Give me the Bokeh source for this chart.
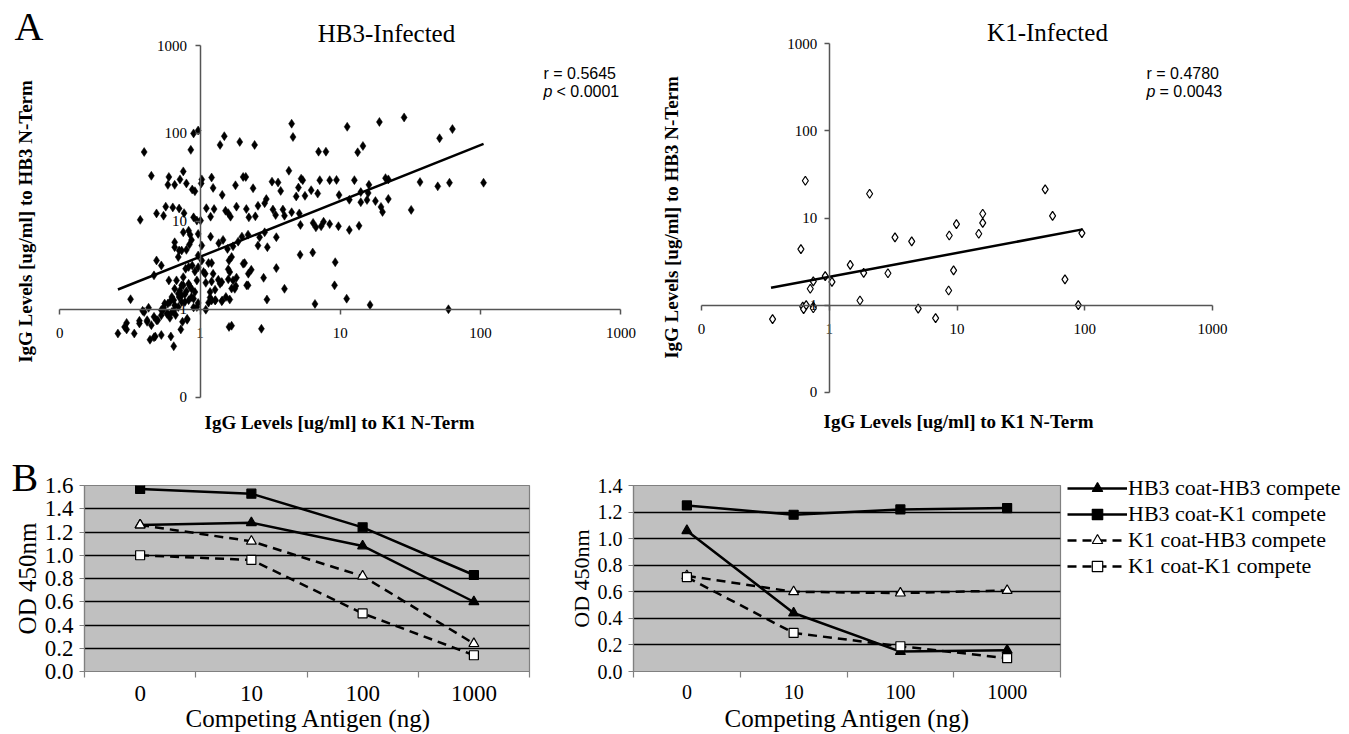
import math
from bokeh.plotting import figure
from bokeh.layouts import column, row
from bokeh.models import (Range1d, FixedTicker, CustomJSTickFormatter, Label, LogAxis,
                          Legend, LegendItem, PrintfTickFormatter, Title)
from bokeh.embed import file_html
from bokeh.resources import INLINE

SERIF = "Liberation Serif"
SANS = "Liberation Sans"

# ---------------- Panel A data ----------------
log_ticks = [0.1, 1, 10, 100, 1000]

# (IgG to K1 N-Term, IgG to HB3 N-Term) for HB3-infected sera
hb3_infected = [
    (0.97, 108), (0.90, 100), (4.5, 129), (4.6, 91), (11.2, 119), (1.49, 93), (1.39, 74),
    (1.92, 80), (2.45, 74), (0.40, 61.5), (0.86, 65), (7.0, 62), (7.9, 62), (13.3, 61),
    (28.5, 152), (19, 135), (63, 112), (51, 88), (14.5, 72),
    (0.45, 33), (0.60, 32), (0.76, 37), (0.59, 26), (0.66, 26), (0.72, 30), (0.80, 27),
    (0.88, 23), (0.92, 22), (1.03, 30), (1.02, 27), (1.21, 31.5), (1.24, 24), (1.44, 20),
    (1.79, 25.7), (2.03, 32), (2.12, 32), (2.39, 23.8), (3.26, 28.3), (3.6, 27.7), (3.76, 22.2),
    (4.3, 37.6), (5.26, 30.6), (5.4, 29.4), (5.03, 24.2), (4.85, 19.2), (5.6, 19.5), (6.2, 22.6),
    (7.14, 29.4), (6.9, 20.7), (8.4, 29.4), (9.4, 29.6), (9.8, 19.9), (12.6, 29.4), (11.6, 17.6),
    (105, 27.5), (60, 27.5), (49.5, 25), (37, 28), (22, 30), (21, 31), (16, 26), (15.8, 21),
    (14, 21.5), (22, 18), (17.8, 17), (15.5, 17.5), (14, 16.5), (19.5, 14.6), (20, 12.8), (32, 13.5),
    (0.375, 10.4), (0.49, 12.3), (0.55, 11.6), (0.57, 14.7), (0.64, 14.4), (0.71, 14.0), (0.77, 12.4),
    (0.90, 11.1), (0.95, 10.2), (1.01, 10.2), (1.11, 14.1), (1.19, 11.3), (1.26, 13.8), (1.52, 13.2),
    (1.59, 12.4), (1.65, 11.3), (1.82, 14.7), (2.14, 13.8), (2.23, 11.1), (2.48, 11.4), (2.59, 15.0),
    (2.89, 16.1), (2.97, 17.9), (3.31, 13.6), (3.46, 11.8), (3.9, 13.6), (4.0, 11.6), (4.5, 12.7),
    (5.1, 12.3), (5.2, 9.1), (6.4, 9.6), (6.7, 8.55), (7.3, 8.8), (7.6, 9.9), (8.4, 9.3), (9.7, 8.8),
    (11.6, 7.97), (13.6, 8.9),
    (0.66, 5.78), (0.66, 5.08), (0.71, 4.66), (0.74, 4.66), (0.80, 4.74), (0.84, 5.44), (0.87, 6.15),
    (0.85, 7.06), (0.83, 7.84), (0.76, 7.5), (0.97, 7.2), (1.03, 5.3), (0.97, 4.09), (1.03, 3.59),
    (1.19, 6.7), (1.36, 5.64), (1.46, 6.15), (1.57, 4.86), (1.72, 5.2), (1.87, 5.88), (1.99, 6.7),
    (2.2, 7.06), (2.59, 5.3), (2.66, 6.6), (2.89, 7.5), (3.5, 6.6), (3.02, 5.08),
    (0.49, 3.59), (0.53, 3.15), (0.47, 2.43), (0.88, 3.15), (0.79, 2.89), (0.92, 2.69), (0.76, 2.32),
    (0.68, 2.13), (0.74, 1.87), (0.83, 1.95), (0.87, 1.71), (0.95, 2.13), (0.97, 3.0), (1.06, 2.65),
    (1.15, 3.35), (1.24, 2.53), (1.35, 2.17), (1.21, 2.07), (1.28, 1.67), (1.18, 1.57), (1.21, 1.26),
    (1.39, 1.95), (1.44, 1.26), (1.59, 2.19), (1.63, 2.65), (1.72, 2.13), (1.77, 1.71), (1.63, 1.29),
    (1.61, 3.59), (2.08, 3.35), (2.32, 2.81), (2.84, 2.28), (3.5, 2.94), (3.0, 1.29), (2.2, 1.87),
    (4.0, 1.71), (5.17, 4.16), (6.36, 4.42), (9.2, 3.43), (9.1, 1.87), (11.1, 1.32), (6.6, 1.15),
    (0.32, 1.3), (16.3, 1.12), (59, 1.0),
    (0.60, 2.13), (0.66, 1.71), (0.70, 1.5), (0.63, 1.38), (0.61, 1.21), (0.56, 1.16), (0.74, 1.44),
    (0.78, 1.21), (0.90, 1.32), (0.70, 1.06), (0.65, 0.97), (0.59, 0.89), (0.53, 0.855), (0.49, 0.75),
    (0.45, 0.66), (0.42, 0.72), (0.40, 0.93), (0.37, 0.74), (0.30, 0.70), (0.30, 0.59), (0.26, 0.53),
    (0.44, 0.45), (0.48, 0.49), (0.53, 0.51), (0.62, 0.49), (0.65, 0.38), (0.73, 0.59), (0.81, 0.76),
    (0.95, 1.06), (0.97, 1.18), (1.1, 0.99), (1.28, 1.26), (1.61, 0.63), (1.68, 0.65), (2.74, 0.60),
    (0.61, 0.80), (0.67, 0.86), (0.55, 1.0),
    (0.39, 0.96), (0.43, 1.04), (0.47, 0.82), (0.53, 0.98), (0.55, 1.05), (0.59, 1.16), (0.63, 0.93),
    (0.65, 1.27), (0.66, 1.11), (0.71, 1.38), (0.72, 1.64), (0.74, 1.21), (0.76, 1.87), (0.78, 1.48),
    (0.80, 1.6), (0.83, 1.27), (0.85, 1.8), (0.87, 1.38), (0.90, 1.05), (0.92, 1.57), (0.58, 0.89),
    (0.50, 0.75), (0.42, 0.75), (0.37, 0.69), (0.29, 0.63), (0.34, 0.53), (0.47, 0.48), (0.81, 0.78),
    (0.75, 0.72), (1.15, 1.19), (1.18, 1.36), (1.29, 1.27), (1.43, 1.23), (1.53, 1.38), (1.68, 1.72),
    (1.80, 1.84), (1.82, 2.29), (2.15, 1.87), (2.21, 2.54), (1.43, 2.04), (1.10, 2.0), (1.09, 2.54),
    (1.21, 3.36), (1.59, 2.85), (1.68, 3.93), (2.03, 3.3), (0.70, 3.93), (0.83, 3.03),
]
hb3_fit_k1 = [0.26, 105]
hb3_fit_hb3 = [1.68, 76]

k1_infected_k1 = [0.36, 0.60, 0.65, 0.62, 0.63, 0.66, 0.75, 0.75, 0.71, 0.75, 0.93, 1.05,
                  1.46, 1.74, 1.86, 2.07, 2.88, 3.27, 4.42, 4.97, 6.8, 8.6, 8.7, 9.4, 9.9,
                  14.8, 15.9, 15.9, 49, 56, 70, 89, 95]
k1_infected_hb3 = [0.69, 4.4, 26.8, 0.96, 0.90, 1.0, 0.96, 0.92, 1.54, 1.87, 2.15, 1.85,
                   2.9, 1.13, 2.34, 19, 2.32, 6.0, 5.4, 0.91, 0.71, 1.47, 6.3, 2.5, 8.5,
                   6.6, 8.8, 11.2, 21.3, 10.6, 1.97, 1.0, 6.7]
k1_fit_k1 = [0.35, 96]
k1_fit_hb3 = [1.58, 7.4]

# ---------------- Panel B data ----------------
doses = ["0", "10", "100", "1000"]
od_ticks_left = [0.0, 0.2, 0.4, 0.6, 0.8, 1.0, 1.2, 1.4, 1.6]
od_ticks_right = [0.0, 0.2, 0.4, 0.6, 0.8, 1.0, 1.2, 1.4]
series_names = ["HB3 coat-HB3 compete", "HB3 coat-K1 compete",
                "K1 coat-HB3 compete", "K1 coat-K1 compete"]
left_hb3coat_hb3comp = [1.26, 1.28, 1.08, 0.60]
left_hb3coat_k1comp = [1.57, 1.53, 1.24, 0.83]
left_k1coat_hb3comp = [1.26, 1.12, 0.82, 0.24]
left_k1coat_k1comp = [1.00, 0.96, 0.50, 0.14]
right_hb3coat_hb3comp = [1.06, 0.44, 0.15, 0.16]
right_hb3coat_k1comp = [1.25, 1.18, 1.22, 1.23]
right_k1coat_hb3comp = [0.72, 0.60, 0.59, 0.61]
right_k1coat_k1comp = [0.71, 0.29, 0.19, 0.10]

# ---------------- geometry (page pixels) ----------------
GEO_A = dict(left=0, top=0, width=640, height=442, x01=59.2, x1000=620.4, y1000=45.0, y01=396.7)
GEO_B = dict(left=640, top=0, width=709, height=442, x01=701.0, x1000=1212.0, y1000=43.3, y01=391.7)
GEO_C = dict(left=0, top=442, width=560, height=292, fx0=84, fx1=529, fy0=485, fy1=671)
GEO_D = dict(left=560, top=442, width=502, height=292, fx0=633, fx1=1060, fy0=485, fy1=671)
GEO_E = dict(left=1062, top=442, width=287, height=292, fy0=472, fy1=671)


def log_limits(g):
    dx = (g["x1000"] - g["x01"]) / 4.0
    dy = (g["y01"] - g["y1000"]) / 4.0
    xlo = -1 - (g["x01"] - g["left"]) / dx
    xhi = 3 + (g["left"] + g["width"] - g["x1000"]) / dx
    yhi = 3 + (g["y1000"] - g["top"]) / dy
    ylo = -1 - (g["top"] + g["height"] - g["y01"]) / dy
    return xlo, xhi, ylo, yhi


def log_xy(g, px, py):
    dx = (g["x1000"] - g["x01"]) / 4.0
    dy = (g["y01"] - g["y1000"]) / 4.0
    return 10 ** (-1 + (px - g["x01"]) / dx), 10 ** (3 - (py - g["y1000"]) / dy)


def lin_xy(g, px, py, ymax):
    x = -0.5 + len(doses) * (px - g["fx0"]) / (g["fx1"] - g["fx0"])
    y = ymax * (g["fy1"] - py) / (g["fy1"] - g["fy0"])
    return x, y


def make_label(xy, text, size, font=SERIF, style="normal", align="left", angle=0.0):
    return Label(x=xy[0], y=xy[1], text=text, text_font=font,
                 text_font_size=f"{size}px", text_font_style=style,
                 text_align=align, text_baseline="middle", angle=angle,
                 text_color="black")


def scatter_fig(g, x_stand, y_stand):
    xlo, xhi, ylo, yhi = log_limits(g)
    p = figure(width=g["width"], height=g["height"], x_axis_type="log", y_axis_type="log",
               x_range=Range1d(10 ** xlo, 10 ** xhi), y_range=Range1d(10 ** ylo, 10 ** yhi),
               x_axis_location=None, y_axis_location=None, min_border=0,
               toolbar_location=None, output_backend="svg")
    p.outline_line_color = None
    p.grid.visible = False
    common = dict(fixed_location=1, bounds=(0.1, 1000),
                  axis_line_color="#555555", axis_line_width=1.5,
                  major_tick_line_color="#555555", major_tick_line_width=1.5,
                  major_tick_in=5, major_tick_out=0, minor_tick_line_color=None,
                  major_label_text_font=SERIF, major_label_text_font_size="15px",
                  major_label_text_color="black")
    xax = LogAxis(ticker=FixedTicker(ticks=log_ticks, minor_ticks=[]),
                  formatter=CustomJSTickFormatter(
                      code="return tick < 0.5 ? '0' : String(Math.round(tick));"),
                  major_label_standoff=x_stand, **common)
    yax = LogAxis(ticker=FixedTicker(ticks=log_ticks, minor_ticks=[]),
                  formatter=CustomJSTickFormatter(
                      code="const s = tick < 0.5 ? '0' : String(Math.round(tick));"
                           " return '\\u2007'.repeat(4 - s.length) + s;"),
                  major_label_standoff=y_stand, **common)
    # the negative standoffs bring the labels back across the axis line
    p.add_layout(xax, "above")
    p.add_layout(yax, "right")
    return p


# ---------------- Panel A : HB3-infected ----------------
pA = scatter_fig(GEO_A, -29, -43)
pA.scatter([v[0] for v in hb3_infected], [v[1] for v in hb3_infected], marker="diamond",
           size=9, fill_color="black", line_color="black", line_width=0.5)
pA.line(hb3_fit_k1, hb3_fit_hb3, line_color="black", line_width=2.5)
for lab in [
    make_label(log_xy(GEO_A, 14, 25.5), "A", 40),
    make_label(log_xy(GEO_A, 386, 32.5), "HB3-Infected", 25, align="center"),
    make_label(log_xy(GEO_A, 543, 72.5), "r = 0.5645", 16, font=SANS),
    make_label(log_xy(GEO_A, 543, 91), "p", 16, font=SANS, style="italic"),
    make_label(log_xy(GEO_A, 556, 91), "< 0.0001", 16, font=SANS),
    make_label(log_xy(GEO_A, 25, 221), "IgG Levels [ug/ml] to HB3 N-Term", 19, style="bold",
               align="center", angle=math.pi / 2),
    make_label(log_xy(GEO_A, 339, 422), "IgG Levels [ug/ml] to K1 N-Term", 19, style="bold",
               align="center"),
]:
    pA.add_layout(lab)

# ---------------- Panel A : K1-infected ----------------
pB = scatter_fig(GEO_B, -29, -42)
pB.scatter(k1_infected_k1, k1_infected_hb3, marker="diamond", size=9,
           fill_color="white", line_color="black", line_width=1.2)
pB.line(k1_fit_k1, k1_fit_hb3, line_color="black", line_width=2.5)
for lab in [
    make_label(log_xy(GEO_B, 1047, 32), "K1-Infected", 25, align="center"),
    make_label(log_xy(GEO_B, 1146, 72.5), "r = 0.4780", 16, font=SANS),
    make_label(log_xy(GEO_B, 1146, 90.5), "p", 16, font=SANS, style="italic"),
    make_label(log_xy(GEO_B, 1159, 90.5), "= 0.0043", 16, font=SANS),
    make_label(log_xy(GEO_B, 671, 217), "IgG Levels [ug/ml] to HB3 N-Term", 19, style="bold",
               align="center", angle=math.pi / 2),
    make_label(log_xy(GEO_B, 958, 421), "IgG Levels [ug/ml] to K1 N-Term", 19, style="bold",
               align="center"),
]:
    pB.add_layout(lab)


# ---------------- Panel B : competition ELISA ----------------
def od_fig(g, ymax, yticks, fsize, xstand, ytitle_size):
    p = figure(width=g["width"], height=g["height"],
               x_range=Range1d(-0.5, len(doses) - 0.5), y_range=Range1d(0, ymax),
               toolbar_location=None, output_backend="svg",
               min_border_left=g["fx0"] - g["left"],
               min_border_right=g["left"] + g["width"] - g["fx1"],
               min_border_top=g["fy0"] - g["top"],
               min_border_bottom=g["top"] + g["height"] - g["fy1"])
    p.background_fill_color = "#c0c0c0"
    p.outline_line_color = "#808080"
    p.outline_line_width = 1.2
    p.xgrid.grid_line_color = None
    p.ygrid.grid_line_color = "black"
    p.ygrid.grid_line_width = 1.3
    yax = p.yaxis[0]
    yax.ticker = FixedTicker(ticks=yticks, minor_ticks=[])
    yax.formatter = PrintfTickFormatter(format="%.1f")
    xax = p.xaxis[0]
    xax.ticker = FixedTicker(ticks=list(range(len(doses))),
                             minor_ticks=[i - 0.5 for i in range(len(doses) + 1)])
    xax.formatter = CustomJSTickFormatter(
        args=dict(labels=doses),
        code="const i = Math.round(tick); return (i >= 0 && i < labels.length) ? labels[i] : '';")
    xax.major_tick_line_color = None
    xax.major_tick_out = 6
    xax.minor_tick_line_color = "#808080"
    xax.minor_tick_out = 6
    xax.minor_tick_in = 0
    xax.major_label_standoff = xstand
    yax.major_tick_line_color = "#808080"
    yax.major_tick_out = 5
    yax.major_tick_in = 0
    yax.major_label_standoff = 6
    yax.minor_tick_line_color = None
    for ax in (xax, yax):
        ax.axis_line_color = "#808080"
        ax.axis_line_width = 1.2
        ax.major_tick_line_width = 1.2
        ax.minor_tick_line_width = 1.2
        ax.major_label_text_font = SERIF
        ax.major_label_text_font_size = f"{fsize}px"
        ax.major_label_text_color = "black"
    p.add_layout(Title(text="OD 450nm", align="center", text_font=SERIF,
                       text_font_size=f"{ytitle_size}px", text_font_style="normal",
                       text_color="black", standoff=2), "left")
    return p


STYLES = [("solid", "triangle", "black", 10),
          ("solid", "square", "black", 9),
          ("9 6", "triangle", "white", 10),
          ("9 6", "square", "white", 9)]


def draw_series(p, xs, vals):
    out = []
    for v, (dash, mk, fill, sz) in zip(vals, STYLES):
        ln = p.line(xs, v, line_color="black", line_width=2.5, line_dash=dash)
        sc = p.scatter(xs, v, marker=mk, size=sz, fill_color=fill, line_color="black",
                       line_width=1.2)
        out.append([ln, sc])
    return out


xpos = list(range(len(doses)))
right_series = [right_hb3coat_hb3comp, right_hb3coat_k1comp,
                right_k1coat_hb3comp, right_k1coat_k1comp]

pC = od_fig(GEO_C, 1.6, od_ticks_left, 23, 8, 25)
draw_series(pC, xpos, [left_hb3coat_hb3comp, left_hb3coat_k1comp,
                       left_k1coat_hb3comp, left_k1coat_k1comp])
pC.add_layout(make_label(lin_xy(GEO_C, 11, 476.5, 1.6), "B", 40), "right")
pC.add_layout(make_label(lin_xy(GEO_C, 308, 718, 1.6), "Competing Antigen (ng)", 25,
                         align="center"), "above")

pD = od_fig(GEO_D, 1.4, od_ticks_right, 20, 7, 22)
draw_series(pD, xpos, right_series)
pD.add_layout(make_label(lin_xy(GEO_D, 847, 718, 1.4), "Competing Antigen (ng)", 25,
                         align="center"), "above")

# legend panel: same series, drawn on a range that keeps them out of view
ROW_H = 26
pE = figure(width=GEO_E["width"], height=GEO_E["height"],
            x_range=Range1d(100, 101), y_range=Range1d(0, 1.4),
            x_axis_location=None, y_axis_location=None,
            min_border_left=0, min_border_right=0,
            min_border_top=GEO_E["fy0"] - GEO_E["top"],
            min_border_bottom=GEO_E["top"] + GEO_E["height"] - GEO_E["fy1"],
            toolbar_location=None, output_backend="svg")
pE.outline_line_color = None
pE.grid.visible = False
rends = draw_series(pE, xpos, right_series)
legend_top = 475
legend = Legend(items=[LegendItem(label=n, renderers=r) for n, r in zip(series_names, rends)],
                location=(5, GEO_E["fy1"] - (legend_top + ROW_H * len(series_names))),
                border_line_color=None, background_fill_alpha=0.0,
                padding=0, margin=0, spacing=0, glyph_width=60, glyph_height=ROW_H,
                label_height=ROW_H, label_standoff=1, label_text_font=SERIF,
                label_text_font_size="22px", label_text_color="black")
pE.add_layout(legend)

layout = column(row(pA, pB), row(pC, pD, column(pE)))
open("out.html", "w").write(file_html(layout, INLINE))
